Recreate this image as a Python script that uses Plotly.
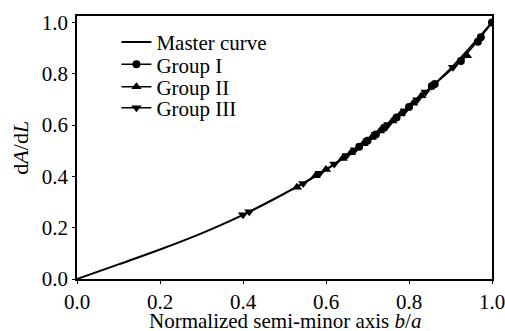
import plotly.graph_objects as go

# Master curve
master_x = [0.0, 0.1, 0.2, 0.3, 0.4, 0.5, 0.6, 0.7, 0.8, 0.9, 1.0]
master_y = [0.0, 0.057, 0.115, 0.178, 0.250, 0.333, 0.425, 0.540, 0.670, 0.820, 1.0]

# Group I (circles)
g1_x = [0.68, 0.70, 0.72, 0.74, 0.77, 0.80, 0.855, 0.862, 0.925, 0.966, 0.973, 1.0]
g1_y = [0.515, 0.539, 0.563, 0.589, 0.629, 0.670, 0.752, 0.760, 0.850, 0.925, 0.942, 1.0]

# Group II (up triangles)
g2_x = [0.53, 0.575, 0.60, 0.64, 0.66, 0.69, 0.71, 0.73, 0.76, 0.78, 0.81, 0.83, 0.94]
g2_y = [0.358, 0.402, 0.427, 0.470, 0.492, 0.527, 0.551, 0.577, 0.616, 0.643, 0.685, 0.714, 0.870]

# Group III (down triangles)
g3_x = [0.40, 0.415, 0.545, 0.585, 0.62, 0.65, 0.67, 0.70, 0.72, 0.75, 0.79, 0.82, 0.84, 0.906]
g3_y = [0.250, 0.262, 0.372, 0.412, 0.448, 0.481, 0.504, 0.539, 0.564, 0.602, 0.656, 0.699, 0.729, 0.825]

tick_vals = [0, 0.2, 0.4, 0.6, 0.8, 1.0]
tick_text = ["0.0", "0.2", "0.4", "0.6", "0.8", "1.0"]

x_title = "Normalized semi-minor axis <i>b</i>/<i>a</i>"
y_title = "d<i>A</i>/d<i>L</i>"

font_family = "Liberation Serif"

fig = go.Figure()
fig.add_trace(go.Scatter(x=master_x, y=master_y, mode="lines", name="Master curve",
                         legend="legend",
                         line=dict(color="black", width=2, shape="spline")))
fig.add_trace(go.Scatter(x=g1_x, y=g1_y, mode="lines+markers", name="Group I",
                         legend="legend2",
                         line=dict(color="black", width=1.5),
                         marker=dict(symbol="circle", size=8, color="black")))
fig.add_trace(go.Scatter(x=g2_x, y=g2_y, mode="lines+markers", name="Group II",
                         legend="legend3",
                         line=dict(color="black", width=1.5),
                         marker=dict(symbol="triangle-up", size=9, color="black")))
fig.add_trace(go.Scatter(x=g3_x, y=g3_y, mode="lines+markers", name="Group III",
                         legend="legend4",
                         line=dict(color="black", width=1.5),
                         marker=dict(symbol="triangle-down", size=9, color="black")))

axis_common = dict(showline=True, linecolor="black", linewidth=1.5, mirror=True,
                   ticks="outside", ticklen=3, tickwidth=1, tickcolor="black",
                   showgrid=False, zeroline=False, automargin=False,
                   ticklabeloverflow="allow",
                   tickfont=dict(family=font_family, size=21, color="black"))

leg_font = dict(family=font_family, size=21, color="black")


def leg(y):
    return dict(x=0.095, y=y, xanchor="left", yanchor="middle",
                bgcolor="rgba(0,0,0,0)", font=leg_font, borderwidth=0)


fig.update_layout(
    width=505, height=331,
    margin=dict(l=77, r=13, t=16, b=52),
    paper_bgcolor="white", plot_bgcolor="white",
    font=dict(family=font_family, size=21, color="black"),
    showlegend=True,
    legend=leg(0.90),
    legend2=leg(0.815),
    legend3=leg(0.73),
    legend4=leg(0.65),
    xaxis=dict(range=[0, 1], tickvals=tick_vals, ticktext=tick_text, **axis_common),
    yaxis=dict(range=[0, 1.025], tickvals=tick_vals, ticktext=tick_text, **axis_common),
    annotations=[
        dict(text=x_title, xref="paper", yref="paper", x=0.5, y=-0.158,
             xanchor="center", yanchor="middle", showarrow=False,
             font=dict(family=font_family, size=21, color="black")),
        dict(text=y_title, xref="paper", yref="paper", x=-0.137, y=0.5,
             xanchor="center", yanchor="middle", showarrow=False, textangle=-90,
             font=dict(family=font_family, size=22, color="black")),
    ],
)

fig.write_html(
    "out.html",
    config={"displayModeBar": False},
    post_script="document.body.style.margin='0';document.body.style.overflow='hidden';",
)
